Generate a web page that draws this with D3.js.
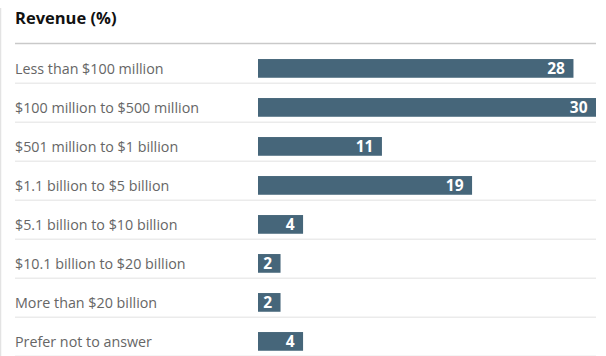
<!DOCTYPE html>
<html>
<head>
<meta charset="utf-8">
<script src="https://cdn.jsdelivr.net/npm/d3@7/dist/d3.min.js"></script>
<style>
  html, body { margin: 0; padding: 0; background: #fff; }
  svg { display: block; }
</style>
</head>
<body>
<svg id="chart" width="606" height="356"></svg>
<script>
// Survey categories and share of respondents (%)
const categories = [
  "Less than $100 million",
  "$100 million to $500 million",
  "$501 million to $1 billion",
  "$1.1 billion to $5 billion",
  "$5.1 billion to $10 billion",
  "$10.1 billion to $20 billion",
  "More than $20 billion",
  "Prefer not to answer"
];
const values = [28, 30, 11, 19, 4, 2, 2, 4];
const title = "Revenue (%)";

const W = 606, H = 356;
const font = "'Open Sans', 'Noto Sans', sans-serif";
const svg = d3.select("#chart");

const left = 15, right = 596;
const barX0 = 258;

const x = d3.scaleLinear().domain([0, 30]).range([barX0, right]);
const y = d3.scaleBand()
  .domain(categories)
  .range([48.9, 48.9 + 39 * categories.length])
  .paddingInner(0.52)
  .paddingOuter(0.26);

// left border
svg.append("line")
  .attr("x1", 0.5).attr("x2", 0.5)
  .attr("y1", 8).attr("y2", H)
  .attr("stroke", "#e3e3e3").attr("stroke-width", 1.5);

// title
svg.append("text")
  .attr("x", left).attr("y", 24)
  .attr("font-family", font)
  .attr("font-weight", 700)
  .attr("font-size", 16.5)
  .attr("fill", "#111")
  .text(title);

// header rule
svg.append("line")
  .attr("x1", left).attr("x2", right)
  .attr("y1", 43.5).attr("y2", 43.5)
  .attr("stroke", "#c9c9c9").attr("stroke-width", 1.5);

const data = categories.map((c, i) => ({ c, v: values[i] }));

// row separators
svg.append("g").selectAll("line")
  .data(data)
  .join("line")
  .attr("x1", left).attr("x2", right)
  .attr("y1", d => y(d.c) + y.bandwidth() + 5.5)
  .attr("y2", d => y(d.c) + y.bandwidth() + 5.5)
  .attr("stroke", "#ebebeb").attr("stroke-width", 1.5);

// category labels
svg.append("g").selectAll("text")
  .data(data)
  .join("text")
  .attr("x", left)
  .attr("y", d => y(d.c) + y.bandwidth() / 2)
  .attr("dy", "0.36em")
  .attr("font-family", font)
  .attr("font-size", 14.3)
  .attr("fill", "#666")
  .text(d => d.c);

// bars
svg.append("g").selectAll("rect")
  .data(data)
  .join("rect")
  .attr("x", x(0))
  .attr("y", d => y(d.c))
  .attr("width", d => x(d.v) - x(0))
  .attr("height", y.bandwidth())
  .attr("fill", "#46667a");

// value labels inside bars
svg.append("g").selectAll("text")
  .data(data)
  .join("text")
  .attr("x", d => x(d.v) - 8.5)
  .attr("y", d => y(d.c) + y.bandwidth() / 2)
  .attr("dy", "0.37em")
  .attr("text-anchor", "end")
  .attr("font-family", font)
  .attr("font-weight", 700)
  .attr("font-size", 15.5)
  .attr("fill", "#fff")
  .text(d => d.v);
</script>
</body>
</html>
